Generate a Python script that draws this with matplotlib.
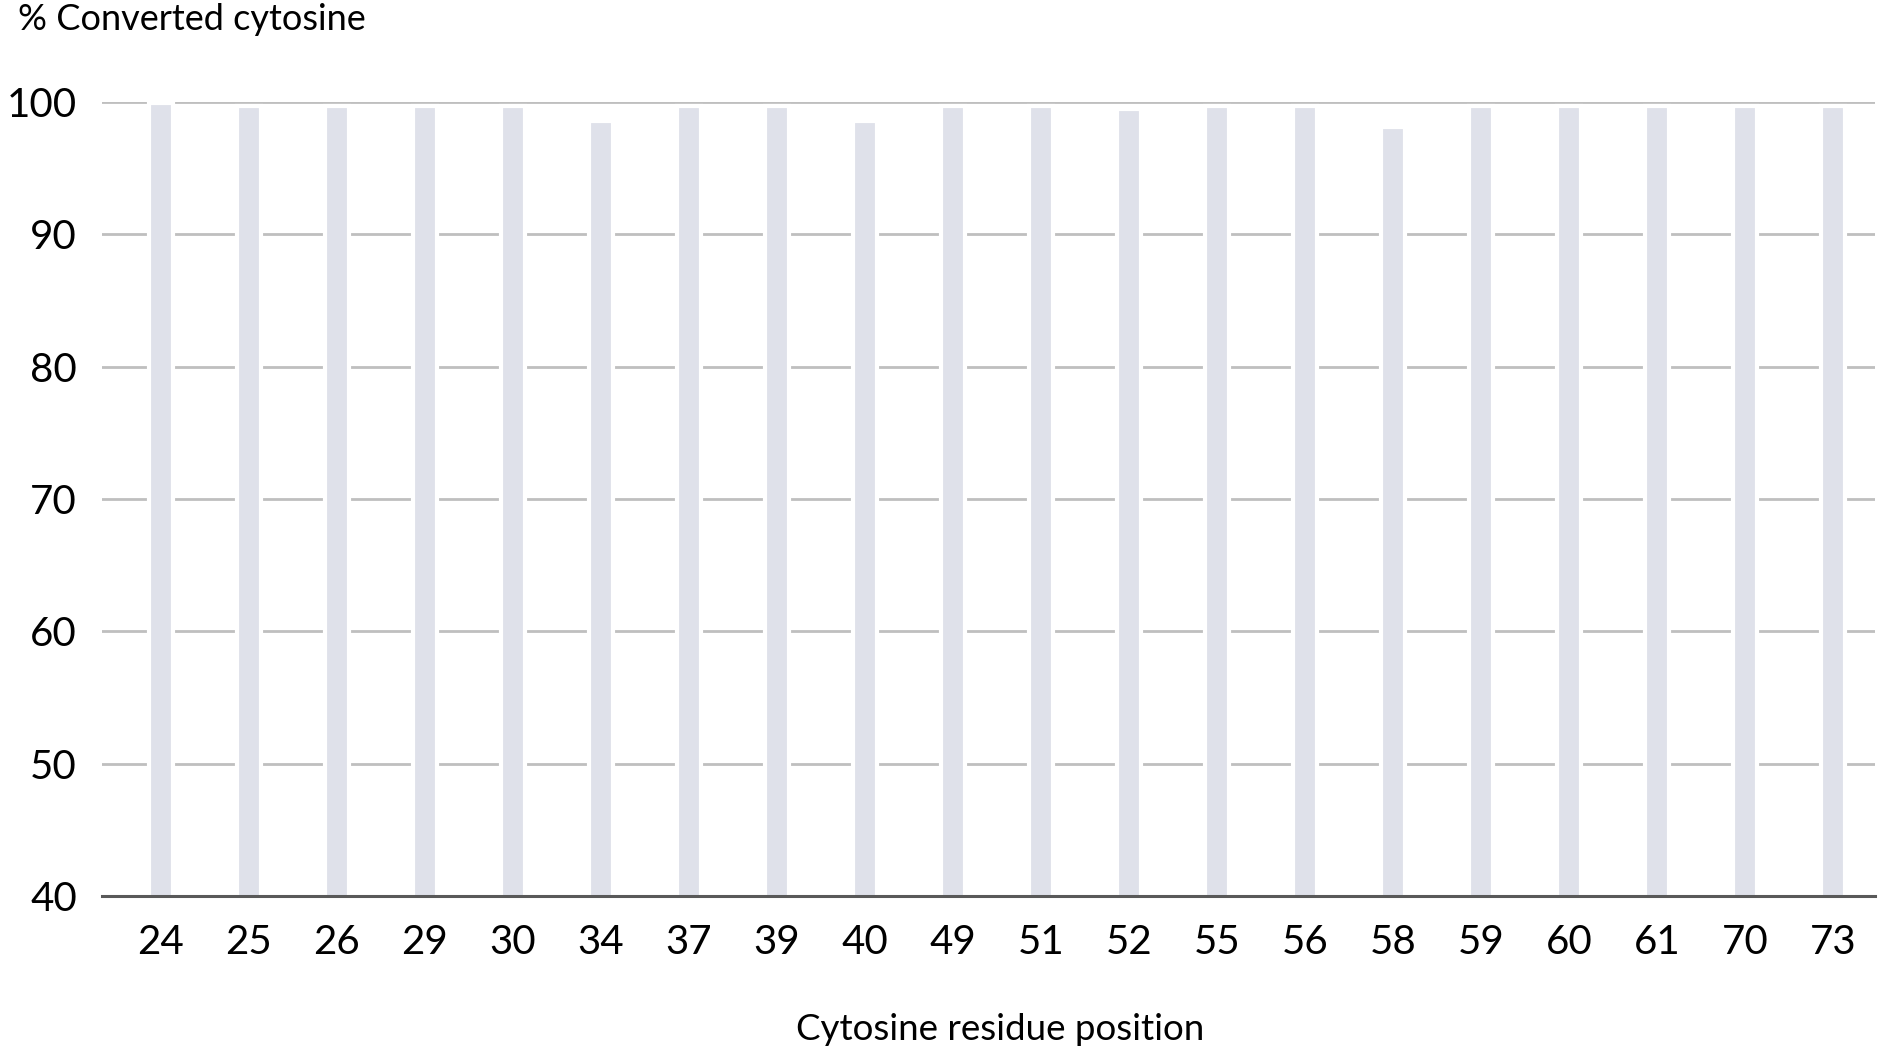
import matplotlib
matplotlib.use('Agg')
import matplotlib.pyplot as plt

positions = ['24', '25', '26', '29', '30', '34', '37', '39', '40', '49',
             '51', '52', '55', '56', '58', '59', '60', '61', '70', '73']
converted = [99.9, 99.7, 99.7, 99.7, 99.7, 98.6, 99.7, 99.7, 98.6, 99.7,
             99.7, 99.5, 99.7, 99.7, 98.1, 99.7, 99.7, 99.7, 99.7, 99.7]
yticks = [40, 50, 60, 70, 80, 90, 100]

plt.rcParams['font.family'] = ['Lato', 'DejaVu Sans']

fig = plt.figure(figsize=(19.02, 10.63), dpi=100)
ax = fig.add_axes([102 / 1902, 1 - 896 / 1063, (1875 - 102) / 1902, (896 - 102) / 1063])

x = list(range(len(positions)))
ax.bar(x, converted, width=0.27, color='#dfe1ea', edgecolor='white',
       linewidth=3, zorder=3)

ax.set_ylim(40, 100)
ax.set_xlim(-0.67, 19.48)
ax.set_yticks(yticks)
ax.set_xticks(x)
ax.set_xticklabels(positions)
ax.yaxis.grid(True, color='#bfbfbf', linewidth=2, zorder=0)
ax.set_axisbelow(True)

for s in ['top', 'right', 'left']:
    ax.spines[s].set_visible(False)
ax.spines['bottom'].set_color('#595959')
ax.spines['bottom'].set_linewidth(2.2)
ax.spines['bottom'].set_zorder(4)

ax.tick_params(axis='both', length=0, labelsize=29, colors='black')
ax.tick_params(axis='y', pad=18)
ax.tick_params(axis='x', pad=20)

fig.text(18 / 1902, 1 - 20 / 1063, '% Converted cytosine', fontsize=26,
         ha='left', va='center')
fig.text(1000 / 1902, 1 - 1030 / 1063, 'Cytosine residue position', fontsize=26.5,
         ha='center', va='center')

fig.savefig('out.png', dpi=100, facecolor='white')
